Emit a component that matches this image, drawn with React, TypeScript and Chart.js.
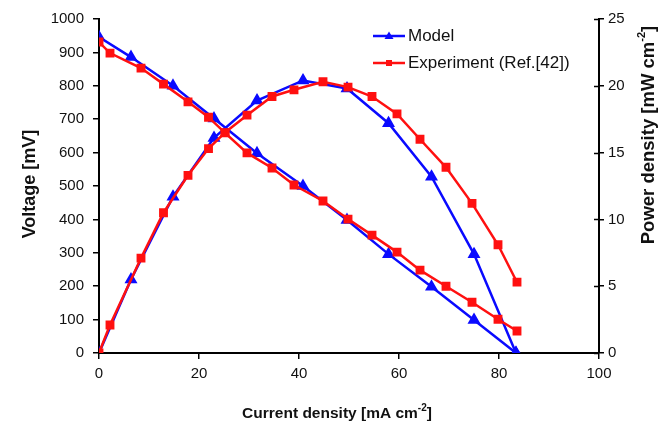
import React, { useEffect, useRef } from "react";
import { Chart, registerables } from "chart.js";

Chart.register(...registerables);

// Model (blue triangles)
const modelCurrent = [0, 6.4, 14.8, 23, 31.6, 40.8, 49.6, 57.9, 66.5, 75, 83.4];
const modelVoltage = [946, 886, 800, 702, 598, 500, 398, 296, 198, 99, 0];
const modelPower = [0, 5.5, 11.7, 16.1, 18.9, 20.4, 19.8, 17.2, 13.2, 7.4, 0];

// Experiment (red squares)
const expCurrent = [0, 2.2, 8.4, 12.9, 17.8, 21.9, 25.2, 29.6, 34.6, 39.0, 44.8, 49.8, 54.6, 59.6, 64.2, 69.4, 74.6, 79.8, 83.6];
const expVoltage = [931, 898, 853, 805, 752, 706, 659, 599, 554, 503, 455, 401, 353, 302, 248, 200, 152, 101, 66];
const expPower = [0, 2.1, 7.1, 10.5, 13.3, 15.3, 16.5, 17.8, 19.2, 19.7, 20.3, 19.9, 19.2, 17.9, 16.0, 13.9, 11.2, 8.1, 5.3];

const xTicks = [0, 20, 40, 60, 80, 100];
const voltageTicks = [0, 100, 200, 300, 400, 500, 600, 700, 800, 900, 1000];
const powerTicks = [0, 5, 10, 15, 20, 25];

const legendLabels = ["Model", "Experiment (Ref.[42])"];
const xTitle = ["Current density [mA cm", "-2", "]"];
const yTitle = "Voltage [mV]";
const y1Title = ["Power density [mW cm", "-2", "]"];

const BLUE = "#0a0aff";
const RED = "#ff1010";
const FONT = "'Liberation Sans', Arial, sans-serif";

const toPts = (xs: number[], ys: number[]) => xs.map((x, i) => ({ x, y: ys[i] }));

function drawSupText(ctx: CanvasRenderingContext2D, parts: string[], size: number, cx: number, cy: number) {
  const big = `bold ${size}px ${FONT}`;
  const small = `bold ${Math.round(size * 0.62)}px ${FONT}`;
  ctx.font = big;
  const w0 = ctx.measureText(parts[0]).width;
  const w2 = ctx.measureText(parts[2]).width;
  ctx.font = small;
  const w1 = ctx.measureText(parts[1]).width;
  const total = w0 + w1 + w2;
  let x = cx - total / 2;
  ctx.textAlign = "left";
  ctx.textBaseline = "middle";
  ctx.font = big;
  ctx.fillText(parts[0], x, cy);
  x += w0;
  ctx.font = small;
  ctx.fillText(parts[1], x, cy - size * 0.38);
  x += w1;
  ctx.font = big;
  ctx.fillText(parts[2], x, cy);
}

const overlay = {
  id: "overlay",
  afterDraw(chart: any) {
    const ctx: CanvasRenderingContext2D = chart.ctx;
    const area = chart.chartArea;
    const y1 = chart.scales.y1;
    ctx.save();
    // inner ticks on right axis
    ctx.strokeStyle = "#000";
    ctx.lineWidth = 1.5;
    powerTicks.forEach((v) => {
      const py = Math.round(y1.getPixelForValue(v)) + 0.5;
      ctx.beginPath();
      ctx.moveTo(area.right - 5, py);
      ctx.lineTo(area.right, py);
      ctx.stroke();
    });
    ctx.fillStyle = "#111";
    // x title
    drawSupText(ctx, xTitle, 15.5, 337, 414);
    // left title
    ctx.save();
    ctx.translate(30, 184);
    ctx.rotate(-Math.PI / 2);
    ctx.font = `bold 18px ${FONT}`;
    ctx.textAlign = "center";
    ctx.textBaseline = "middle";
    ctx.fillText(yTitle, 0, 0);
    ctx.restore();
    // right title
    ctx.save();
    ctx.translate(649, 135);
    ctx.rotate(-Math.PI / 2);
    drawSupText(ctx, y1Title, 18.5, 0, 0);
    ctx.restore();
    // legend
    const items = [
      { color: BLUE, style: "triangle", y: 36 },
      { color: RED, style: "rect", y: 63 },
    ];
    items.forEach((it, i) => {
      ctx.strokeStyle = it.color;
      ctx.fillStyle = it.color;
      ctx.lineWidth = 2.5;
      ctx.beginPath();
      ctx.moveTo(373, it.y);
      ctx.lineTo(405, it.y);
      ctx.stroke();
      if (it.style === "triangle") {
        ctx.beginPath();
        ctx.moveTo(389, it.y - 4.5);
        ctx.lineTo(393.5, it.y + 3);
        ctx.lineTo(384.5, it.y + 3);
        ctx.closePath();
        ctx.fill();
      } else {
        ctx.fillRect(386, it.y - 3, 6, 6);
      }
      ctx.fillStyle = "#111";
      ctx.font = `17px ${FONT}`;
      ctx.textAlign = "left";
      ctx.textBaseline = "middle";
      ctx.fillText(legendLabels[i], 408, it.y);
    });
    ctx.restore();
  },
};

export default function App() {
  const ref = useRef<HTMLCanvasElement | null>(null);
  useEffect(() => {
    document.body.style.margin = "0";
    const canvas = ref.current!;
    const tickFont = { family: FONT, size: 15 };
    const fmt = (v: any) => String(v);
    const chart = new Chart(canvas, {
      type: "scatter",
      data: {
        datasets: [
          {
            label: "Experiment V",
            data: toPts(expCurrent, expVoltage),
            yAxisID: "y",
            showLine: true,
            borderColor: RED,
            backgroundColor: RED,
            borderWidth: 2.5,
            pointStyle: "rect",
            pointRadius: 4.5,
            tension: 0,
          },
          {
            label: "Experiment P",
            data: toPts(expCurrent, expPower),
            yAxisID: "y1",
            showLine: true,
            borderColor: RED,
            backgroundColor: RED,
            borderWidth: 2.5,
            pointStyle: "rect",
            pointRadius: 4.5,
            tension: 0,
          },
          {
            label: "Model V",
            data: toPts(modelCurrent, modelVoltage),
            yAxisID: "y",
            showLine: true,
            borderColor: BLUE,
            backgroundColor: BLUE,
            borderWidth: 2.5,
            pointStyle: "triangle",
            pointRadius: 5,
            tension: 0,
          },
          {
            label: "Model P",
            data: toPts(modelCurrent, modelPower),
            yAxisID: "y1",
            showLine: true,
            borderColor: BLUE,
            backgroundColor: BLUE,
            borderWidth: 2.5,
            pointStyle: "triangle",
            pointRadius: 5,
            tension: 0,
          },
        ],
      },
      options: {
        responsive: false,
        animation: false,
        layout: { padding: { top: 19, left: 0, right: 0, bottom: 0 } },
        plugins: { legend: { display: false }, tooltip: { enabled: false } },
        scales: {
          x: {
            type: "linear",
            min: 0,
            max: 100,
            afterBuildTicks: (s: any) => { s.ticks = xTicks.map((v) => ({ value: v })); },
            afterFit: (s: any) => { s.height = 71; },
            ticks: { font: tickFont, color: "#111", padding: 6, maxRotation: 0, callback: fmt },
            grid: { drawOnChartArea: false, tickLength: 6, color: "#000", lineWidth: 1.5 },
            border: { color: "#000", width: 2 },
          },
          y: {
            type: "linear",
            position: "left",
            min: 0,
            max: 1000,
            afterBuildTicks: (s: any) => { s.ticks = voltageTicks.map((v) => ({ value: v })); },
            afterFit: (s: any) => { s.width = 99; },
            ticks: { font: tickFont, color: "#111", padding: 9, callback: fmt },
            grid: { drawOnChartArea: false, tickLength: 6, color: "#000", lineWidth: 1.5 },
            border: { color: "#000", width: 2 },
          },
          y1: {
            type: "linear",
            position: "right",
            min: 0,
            max: 25,
            afterBuildTicks: (s: any) => { s.ticks = powerTicks.map((v) => ({ value: v })); },
            afterFit: (s: any) => { s.width = 65; },
            ticks: { font: tickFont, color: "#111", padding: 4, callback: fmt },
            grid: { drawOnChartArea: false, tickLength: 5, color: "#000", lineWidth: 1.5 },
            border: { color: "#000", width: 2 },
          },
        },
      },
      plugins: [overlay],
    } as any);
    return () => chart.destroy();
  }, []);
  return (
    <div style={{ width: 664, height: 424, background: "#fff" }}>
      <canvas ref={ref} width={664} height={424} />
    </div>
  );
}
